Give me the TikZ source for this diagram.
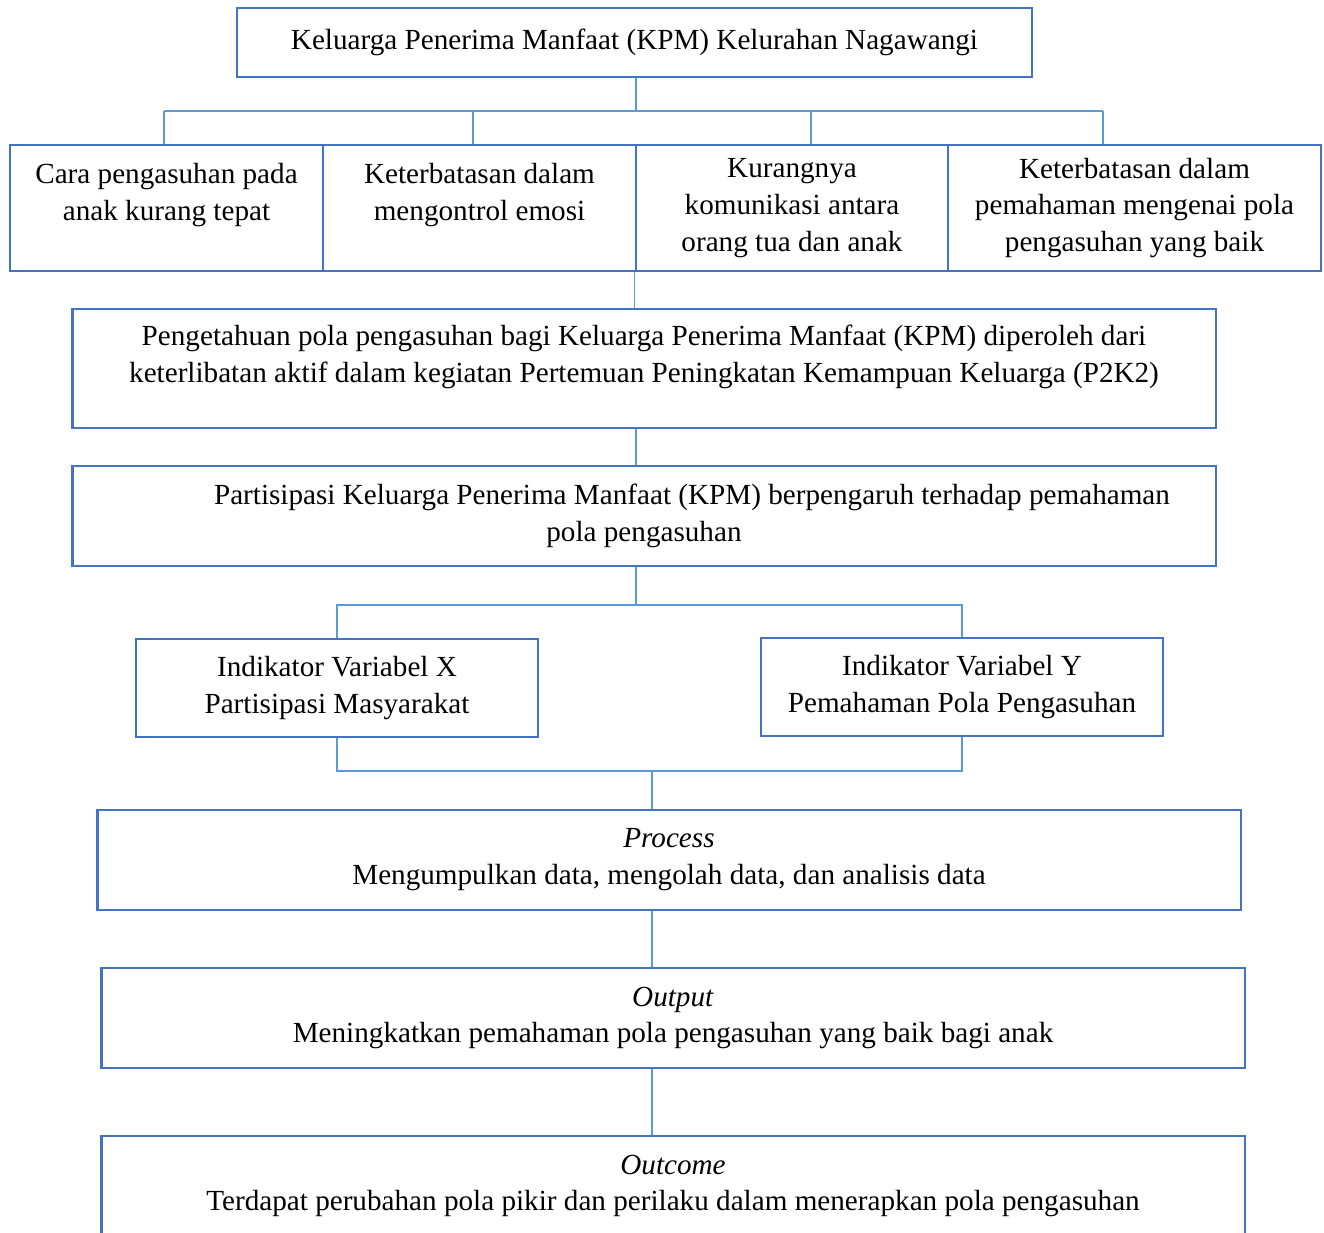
\documentclass[tikz,border=0pt]{standalone}
\usepackage{fontspec}
\setmainfont{Liberation Serif}
\usetikzlibrary{positioning}
\definecolor{boxblue}{HTML}{4472C4}
\definecolor{lineblue}{HTML}{5B9BD5}

\begin{document}
\begin{tikzpicture}[x=0.02cm, y=-0.02cm,
  box/.style={draw=boxblue, line width=1.6pt, rectangle, align=center,
    inner sep=2pt, font=\fontsize{16.6}{21}\selectfont},
  raised/.style={text depth=#1},
  link/.style={draw=lineblue, line width=0.7pt}]
  \useasboundingbox (0,0) rectangle (1324,1232);
  \clip (0,0) rectangle (1324,1232);

  \node[box, minimum width=15.9cm, minimum height=1.38cm] (kpm) at (634.5,42.5)
    {Keluarga Penerima Manfaat (KPM) Kelurahan Nagawangi};

  \node[box, raised=0.65cm, minimum width=6.26cm, minimum height=2.52cm] (c1) at (166.5,208)
    {Cara pengasuhan pada\\anak kurang tepat};
  \node[box, raised=0.65cm, minimum width=6.26cm, minimum height=2.52cm] (c2) at (479.5,208)
    {Keterbatasan dalam\\mengontrol emosi};
  \node[box, minimum width=6.24cm, minimum height=2.52cm] (c3) at (792,208)
    {Kurangnya\\komunikasi antara\\orang tua dan anak};
  \node[box, minimum width=7.46cm, minimum height=2.52cm] (c4) at (1134.5,208)
    {Keterbatasan dalam\\pemahaman mengenai pola\\pengasuhan yang baik};

  \node[box, raised=0.6cm, minimum width=22.88cm, minimum height=2.38cm] (pengetahuan) at (644,368.5)
    {Pengetahuan pola pengasuhan bagi Keluarga Penerima Manfaat (KPM) diperoleh dari\\
     keterlibatan aktif dalam kegiatan Pertemuan Peningkatan Kemampuan Keluarga (P2K2)};
  \node[box, minimum width=22.88cm, minimum height=2cm] (partisipasi) at (644,516)
    {\hspace*{1.92cm}Partisipasi Keluarga Penerima Manfaat (KPM) berpengaruh terhadap pemahaman\\
     pola pengasuhan};

  \node[box, minimum width=8.04cm, minimum height=1.96cm] (varx) at (337,688)
    {Indikator Variabel X\\Partisipasi Masyarakat};
  \node[box, minimum width=8.04cm, minimum height=1.96cm] (vary) at (962,687)
    {Indikator Variabel Y\\Pemahaman Pola Pengasuhan};

  \node[box, minimum width=22.88cm, minimum height=2cm] (process) at (669,860)
    {\textit{Process}\\Mengumpulkan data, mengolah data, dan analisis data};
  \node[box, minimum width=22.88cm, minimum height=2cm] (output) at (673,1018)
    {\textit{Output}\\Meningkatkan pemahaman pola pengasuhan yang baik bagi anak};
  \node[box, minimum width=22.88cm, minimum height=2cm] (outcome) at (673,1186)
    {\textit{Outcome}\\Terdapat perubahan pola pikir dan perilaku dalam menerapkan pola pengasuhan};

  \coordinate (axis) at (636,0);
  \coordinate (bar) at (636,111);
  \coordinate (d1) at (164,111);
  \coordinate (d2) at (473,111);
  \coordinate (d3) at (811,111);
  \coordinate (d4) at (1103,111);
  \coordinate (split) at (636,605);
  \coordinate (merge) at (652,771);

  \draw[link] (kpm.south -| axis) -- (bar);
  \draw[link] (d1) -- (d4);
  \draw[link] (d1) -- (d1 |- c1.north);
  \draw[link] (d2) -- (d2 |- c2.north);
  \draw[link] (d3) -- (d3 |- c3.north);
  \draw[link] (d4) -- (d4 |- c4.north);
  \draw[link] (c3.south west) -- (c3.south west |- pengetahuan.north);
  \draw[link] (pengetahuan.south -| axis) -- (partisipasi.north -| axis);
  \draw[link] (partisipasi.south -| axis) -- (split);
  \draw[link] (varx.north) |- (split) -| (vary.north);
  \draw[link] (varx.south) |- (merge) -| (vary.south);
  \draw[link] (merge) -- (merge |- process.north);
  \draw[link] (process.south -| merge) -- (output.north -| merge);
  \draw[link] (output.south -| merge) -- (outcome.north -| merge);
\end{tikzpicture}
\end{document}
